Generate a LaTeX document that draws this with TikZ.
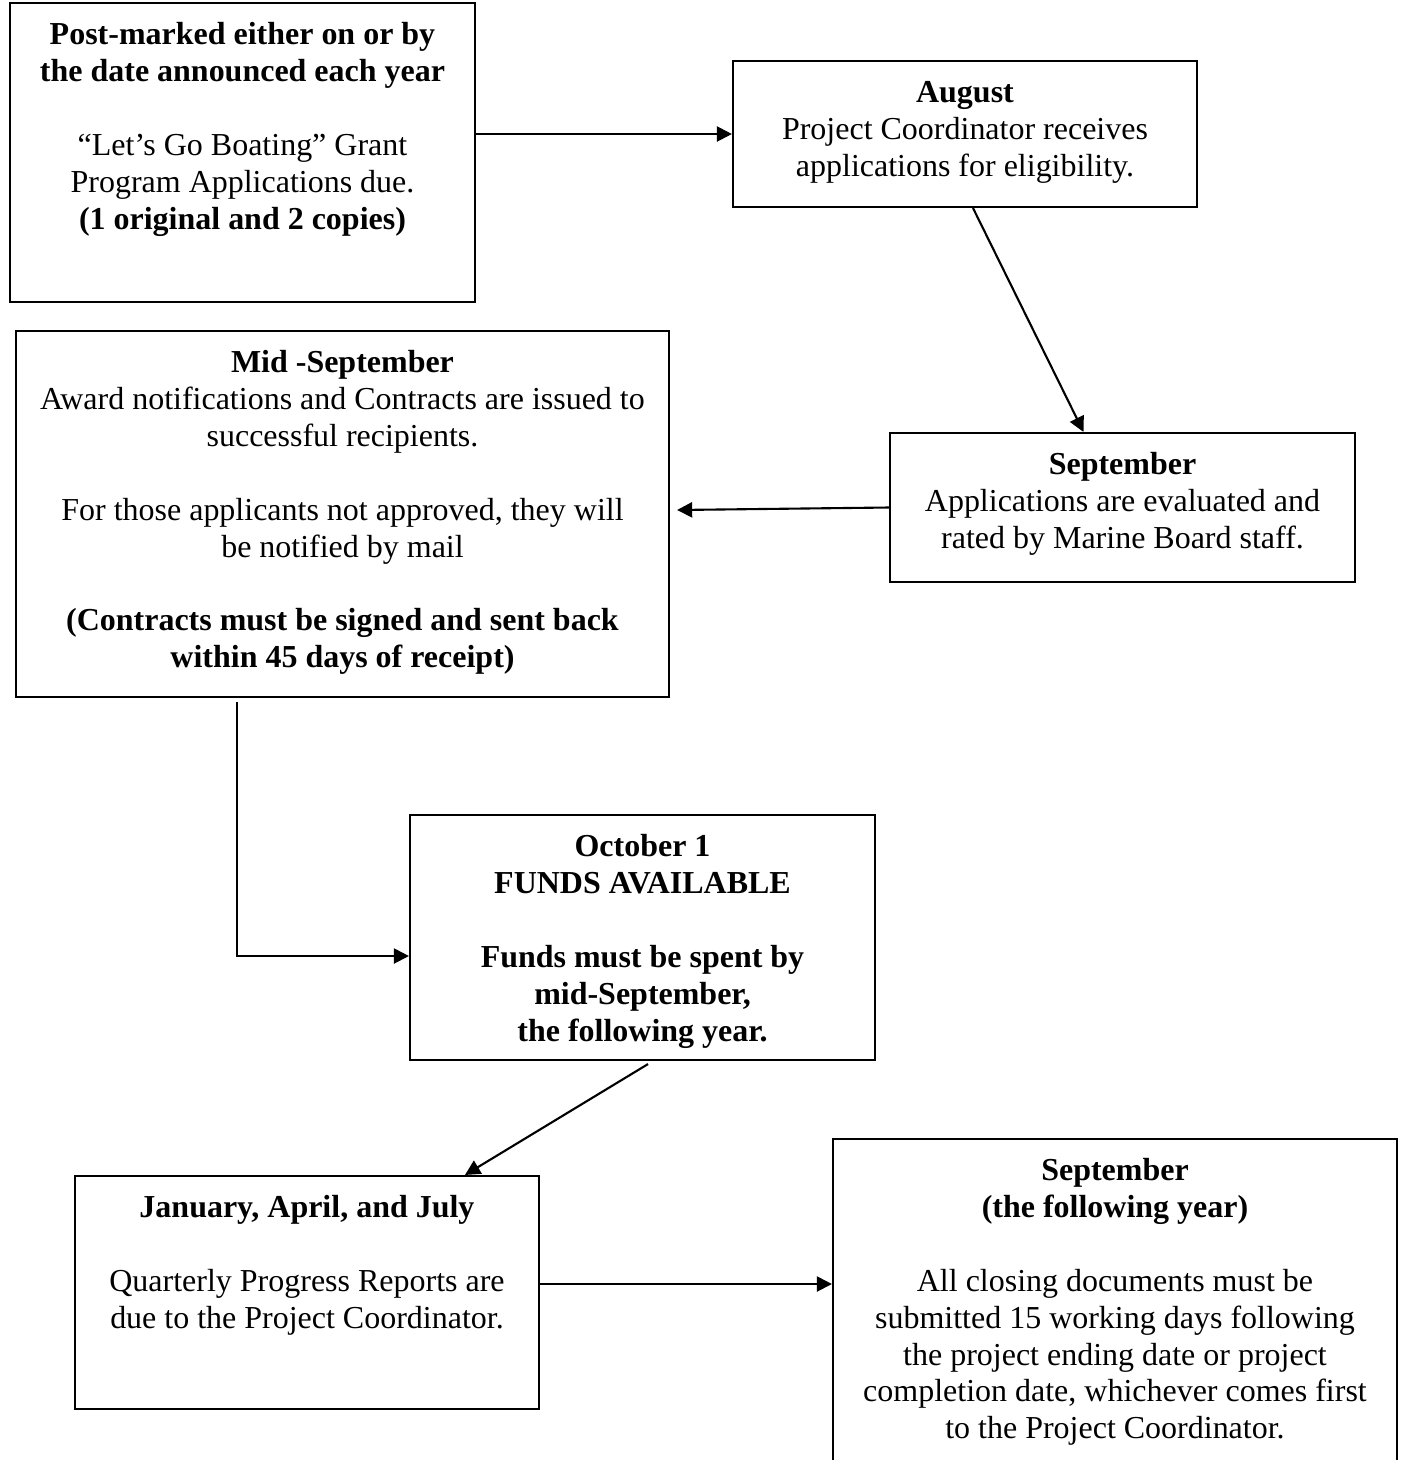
\documentclass[tikz,border=0pt]{standalone}
\usepackage{fontspec}
\setmainfont{Liberation Serif}
\usetikzlibrary{arrows.meta}

\tikzset{
    box/.style={draw, line width=0.6pt, inner sep=0pt},
    boxtext/.style={anchor=north, align=center, inner sep=0pt,
        font=\fontsize{9.1}{10.5}\selectfont, yshift=-0.16cm},
    link/.style={-{Triangle[length=4.3pt, width=4.3pt]}, line width=0.6pt}
}

\begin{document}
\begin{tikzpicture}
    % White page with the reference proportions
    \fill[white] (0,0) rectangle (14.02,-14.60);
    \useasboundingbox (0,0) rectangle (14.02,-14.60);

    % Boxes
    \node[box, minimum width=4.65cm, minimum height=2.99cm] (post) at (2.425,-1.525) {};
    \node[box, minimum width=4.64cm, minimum height=1.46cm] (aug) at (9.65,-1.34) {};
    \node[box, minimum width=4.65cm, minimum height=1.49cm] (sept) at (11.225,-5.075) {};
    \node[box, minimum width=6.53cm, minimum height=3.66cm] (mid) at (3.425,-5.14) {};
    \node[box, minimum width=4.65cm, minimum height=2.45cm] (oct) at (6.425,-9.375) {};
    \node[box, minimum width=4.64cm, minimum height=2.33cm] (rep) at (3.07,-12.925) {};
    \node[box, minimum width=5.64cm, minimum height=4.00cm] (close) at (11.15,-13.39) {};

    % Box texts
    \node[boxtext] (postTxt) at (post.north) {\strut\textbf{Post-marked either on or by}\\
        \textbf{the date announced each year}\\[10.5pt]
        “Let’s Go Boating” Grant\\
        Program Applications due.\\
        \textbf{(1 original and 2 copies)}};
    \node[boxtext] (augTxt) at (aug.north) {\strut\textbf{August}\\
        Project Coordinator receives\\
        applications for eligibility.};
    \node[boxtext] (septTxt) at (sept.north) {\strut\textbf{September}\\
        Applications are evaluated and\\
        rated by Marine Board staff.};
    \node[boxtext] (midTxt) at (mid.north) {\strut\textbf{Mid -September}\\
        Award notifications and Contracts are issued to\\
        successful recipients.\\[10.5pt]
        For those applicants not approved, they will\\
        be notified by mail\\[10.5pt]
        \textbf{(Contracts must be signed and sent back}\\
        \textbf{within 45 days of receipt)}};
    \node[boxtext] (octTxt) at (oct.north) {\strut\textbf{October 1}\\
        \textbf{FUNDS AVAILABLE}\\[10.5pt]
        \textbf{Funds must be spent by}\\
        \textbf{mid-September,}\\
        \textbf{the following year.}};
    \node[boxtext] (repTxt) at (rep.north) {\strut\textbf{January, April, and July}\\[10.5pt]
        Quarterly Progress Reports are\\
        due to the Project Coordinator.};
    \node[boxtext] (closeTxt) at (close.north) {\strut\textbf{September}\\
        \textbf{(the following year)}\\[10.5pt]
        All closing documents must be\\
        submitted 15 working days following\\
        the project ending date or project\\
        completion date, whichever comes first\\
        to the Project Coordinator.};

    % Connectors
    \draw[link] (post.east |- aug.west) -- (aug.west);
    \draw[link] ([xshift=0.08cm]aug.south) -- ([xshift=-0.39cm]sept.north);
    \draw[link] (sept.west) -- ([shift={(0.07,0.04)}]mid.east);
    \draw[link] ([shift={(-1.055,-0.04)}]mid.south) |- ([yshift=-0.185cm]oct.west);
    \draw[link] ([shift={(0.055,-0.03)}]oct.south) -- ([xshift=1.58cm]rep.north);
    \draw[link] ([yshift=0.085cm]rep.east) -- ([yshift=0.085cm]rep.east -| close.west);
\end{tikzpicture}
\end{document}
